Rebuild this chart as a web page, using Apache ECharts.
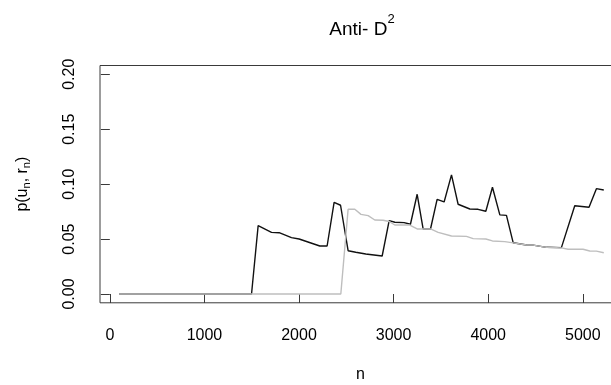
<!DOCTYPE html>
<html><head><meta charset="utf-8">
<script src="https://cdn.jsdelivr.net/npm/echarts@6/dist/echarts.min.js"></script>
<style>html,body{margin:0;padding:0;background:#fff}#c{width:611px;height:385px}</style>
</head><body><div id="c"></div>
<script>
const nBlack = [100,1498,1568,1709,1790,1920,2001,2220,2297,2371,2439,2519,2600,2706,2879,2953,3013,3111,3178,3249,3312,3390,3460,3534,3612,3682,3806,3893,3975,4045,4123,4193,4264,4405,4475,4616,4774,4915,5066,5144,5222];
const vBlack = [0,0,0.0622,0.0561,0.0558,0.0513,0.0501,0.0437,0.0437,0.0835,0.0808,0.0394,0.0380,0.0364,0.0346,0.0668,0.0653,0.0650,0.0635,0.0908,0.0592,0.0592,0.0862,0.0838,0.1084,0.0817,0.0774,0.0771,0.0753,0.0972,0.0720,0.0716,0.0467,0.0446,0.0445,0.0425,0.0422,0.0804,0.0790,0.0959,0.0947];
const nGray = [100,2442,2519,2590,2655,2731,2801,2889,2953,3013,3171,3249,3390,3471,3612,3770,3841,3975,4045,4175,4264,4405,4475,4616,4774,4845,5003,5074,5144,5222];
const vGray = [0,0,0.0771,0.0771,0.0725,0.0713,0.0674,0.0671,0.0660,0.0628,0.0628,0.0592,0.0592,0.0561,0.0528,0.0525,0.0504,0.0501,0.0483,0.0477,0.0465,0.0446,0.0445,0.0425,0.0420,0.0407,0.0407,0.0392,0.0390,0.0376];
const xTicks = [0,1000,2000,3000,4000,5000];
const yTicks = [0,0.05,0.10,0.15,0.20];

const F = 'Liberation Sans, Arial, sans-serif';
const chart = echarts.init(document.getElementById('c'), null, {renderer:'canvas'});
const zip = (a,b)=>a.map((x,i)=>[x,b[i]]);
chart.setOption({
  animation:false,
  backgroundColor:'#fff',
  title:{
    text:'{a|Anti- D}{s|2}',
    left:357, top:8, textAlign:'center',
    textStyle:{fontWeight:'normal', rich:{
      a:{fontFamily:F,fontSize:19,fontWeight:'normal',color:'#000',lineHeight:26,verticalAlign:'bottom'},
      s:{fontFamily:F,fontSize:13,fontWeight:'normal',color:'#000',lineHeight:26,verticalAlign:'top',padding:[0,0,10,0]}
    }}
  },
  grid:{left:100, top:65.5, width:521, height:237.3, outerBoundsMode:'none', containLabel:false, show:true, borderColor:'#3a3a3a', borderWidth:1, backgroundColor:'transparent'},
  xAxis:{
    type:'value', min:-104, max:5404,
    name:'n', nameLocation:'middle', nameGap:64,
    nameTextStyle:{fontFamily:F,fontSize:16,color:'#000'},
    axisLine:{show:false},
    splitLine:{show:false},
    axisTick:{show:true, length:9, customValues:xTicks, lineStyle:{color:'#3a3a3a',width:1}},
    axisLabel:{customValues:xTicks, margin:25, fontFamily:F, fontSize:16, color:'#000', formatter:v=>String(v)}
  },
  yAxis:{
    type:'value', min:-0.008, max:0.208,
    name:'{a|p(u}{s|n}{a|, r}{s|n}{a|)}', nameLocation:'middle', nameGap:67, nameRotate:90,
    nameTextStyle:{rich:{
      a:{fontFamily:F,fontSize:16,color:'#000',lineHeight:20,verticalAlign:'middle'},
      s:{fontFamily:F,fontSize:11,color:'#000',lineHeight:20,verticalAlign:'middle',padding:[8,0,0,0]}
    }},
    axisLine:{show:false},
    splitLine:{show:false},
    axisTick:{show:true, length:9, customValues:yTicks, lineStyle:{color:'#3a3a3a',width:1}},
    axisLabel:{customValues:yTicks, rotate:90, margin:22, fontFamily:F, fontSize:16, color:'#000', formatter:v=>v.toFixed(2)}
  },
  series:[
    {type:'line', data:zip(nBlack,vBlack), showSymbol:false, lineStyle:{color:'#111',width:1.4}, clip:true, z:2},
    {type:'line', data:zip(nGray,vGray), showSymbol:false, lineStyle:{color:'#bebebe',width:1.4}, clip:true, z:3}
  ]
});
</script></body></html>
